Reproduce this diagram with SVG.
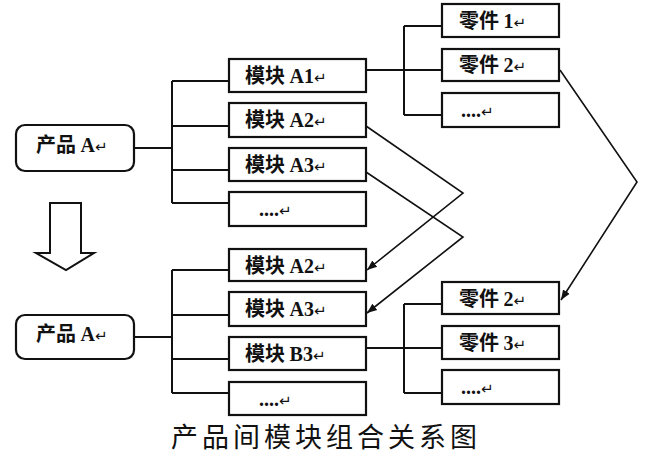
<svg xmlns="http://www.w3.org/2000/svg" width="664" height="454" viewBox="0 0 664 454">
<style>
.box{fill:#fff;stroke:#111;stroke-width:2.2}
.ln{fill:none;stroke:#111;stroke-width:2}
.cn{fill:none;stroke:#111;stroke-width:1.6}
.t{font-family:"Noto Sans CJK SC","Liberation Sans",sans-serif;font-size:20px;font-weight:bold;fill:#111}
.l{font-family:"Liberation Serif","Noto Sans CJK SC",serif;font-weight:bold}
.r{font-family:"DejaVu Sans",sans-serif;font-size:15px;font-weight:normal}
.cap{font-family:"Liberation Serif","Noto Sans CJK SC",serif;font-size:27px;font-weight:normal;letter-spacing:4px;fill:#111}
</style>
<defs>
<marker id="ah" viewBox="0 0 10 10" refX="10" refY="5" markerWidth="10" markerHeight="10" markerUnits="userSpaceOnUse" orient="auto">
<path d="M0,1 L10,5 L0,9 Z" fill="#111"/>
</marker>
</defs>
<rect width="664" height="454" fill="#fff"/>

<g id="connectors">
<path class="ln" d="M134,148 H172 M172,81 V203 M172,81 H229 M172,126 H229 M172,170 H229 M172,203 H229"/>
<path class="ln" d="M366,70 H442 M404,26 V115 M404,26 H442 M404,115 H442"/>
<path class="ln" d="M134,337 H172 M172,270 V393 M172,270 H229 M172,315 H229 M172,359 H229 M172,393 H229"/>
<path class="ln" d="M366,348 H442 M404,304 V393 M404,304 H442 M404,393 H442"/>
<polyline class="cn" points="366,126 463,193 367,270" marker-end="url(#ah)"/>
<polyline class="cn" points="366,172 463,237 367,313" marker-end="url(#ah)"/>
<polyline class="cn" points="560,70 637,182 561,300" marker-end="url(#ah)"/>
</g>

<g id="productA1">
<rect class="box" x="16" y="125" width="118" height="46" rx="9"/>
<text class="t" x="36" y="152">产品 <tspan class="l">A</tspan><tspan class="r">↵</tspan></text>
</g>
<g id="moduleA1">
<rect class="box" x="229" y="59" width="137" height="33"/>
<text class="t" x="245" y="83">模块 <tspan class="l">A1</tspan><tspan class="r">↵</tspan></text>
</g>
<g id="moduleA2">
<rect class="box" x="229" y="103" width="137" height="34"/>
<text class="t" x="245" y="127">模块 <tspan class="l">A2</tspan><tspan class="r">↵</tspan></text>
</g>
<g id="moduleA3">
<rect class="box" x="229" y="148" width="137" height="33"/>
<text class="t" x="245" y="172">模块 <tspan class="l">A3</tspan><tspan class="r">↵</tspan></text>
</g>
<g id="moduleMore1">
<rect class="box" x="229" y="192" width="137" height="34"/>
<text class="t" x="259" y="216"><tspan class="l">....</tspan><tspan class="r">↵</tspan></text>
</g>
<g id="part1">
<rect class="box" x="442" y="4" width="117" height="33"/>
<text class="t" x="459" y="28">零件 <tspan class="l">1</tspan><tspan class="r">↵</tspan></text>
</g>
<g id="part2">
<rect class="box" x="442" y="49" width="117" height="32"/>
<text class="t" x="459" y="72">零件 <tspan class="l">2</tspan><tspan class="r">↵</tspan></text>
</g>
<g id="partMore1">
<rect class="box" x="442" y="93" width="117" height="34"/>
<text class="t" x="461" y="117"><tspan class="l">....</tspan><tspan class="r">↵</tspan></text>
</g>

<g id="downArrow">
<polygon points="50,203 81,203 81,253 94,253 66,270 36,253 50,253" fill="#fff" stroke="#111" stroke-width="2" stroke-linejoin="miter"/>
</g>

<g id="productA2">
<rect class="box" x="16" y="315" width="118" height="44" rx="9"/>
<text class="t" x="36" y="341">产品 <tspan class="l">A</tspan><tspan class="r">↵</tspan></text>
</g>
<g id="moduleA2b">
<rect class="box" x="229" y="249" width="137" height="32"/>
<text class="t" x="245" y="273">模块 <tspan class="l">A2</tspan><tspan class="r">↵</tspan></text>
</g>
<g id="moduleA3b">
<rect class="box" x="229" y="292" width="137" height="34"/>
<text class="t" x="245" y="316">模块 <tspan class="l">A3</tspan><tspan class="r">↵</tspan></text>
</g>
<g id="moduleB3">
<rect class="box" x="229" y="337" width="137" height="33"/>
<text class="t" x="245" y="361">模块 <tspan class="l">B3</tspan><tspan class="r">↵</tspan></text>
</g>
<g id="moduleMore2">
<rect class="box" x="229" y="382" width="137" height="33"/>
<text class="t" x="259" y="406"><tspan class="l">....</tspan><tspan class="r">↵</tspan></text>
</g>
<g id="part2b">
<rect class="box" x="442" y="282" width="117" height="32"/>
<text class="t" x="459" y="306">零件 <tspan class="l">2</tspan><tspan class="r">↵</tspan></text>
</g>
<g id="part3">
<rect class="box" x="442" y="326" width="117" height="33"/>
<text class="t" x="459" y="350">零件 <tspan class="l">3</tspan><tspan class="r">↵</tspan></text>
</g>
<g id="partMore2">
<rect class="box" x="442" y="370" width="117" height="34"/>
<text class="t" x="461" y="394"><tspan class="l">....</tspan><tspan class="r">↵</tspan></text>
</g>

<text class="cap" x="171" y="447">产品间模块组合关系图</text>
</svg>
